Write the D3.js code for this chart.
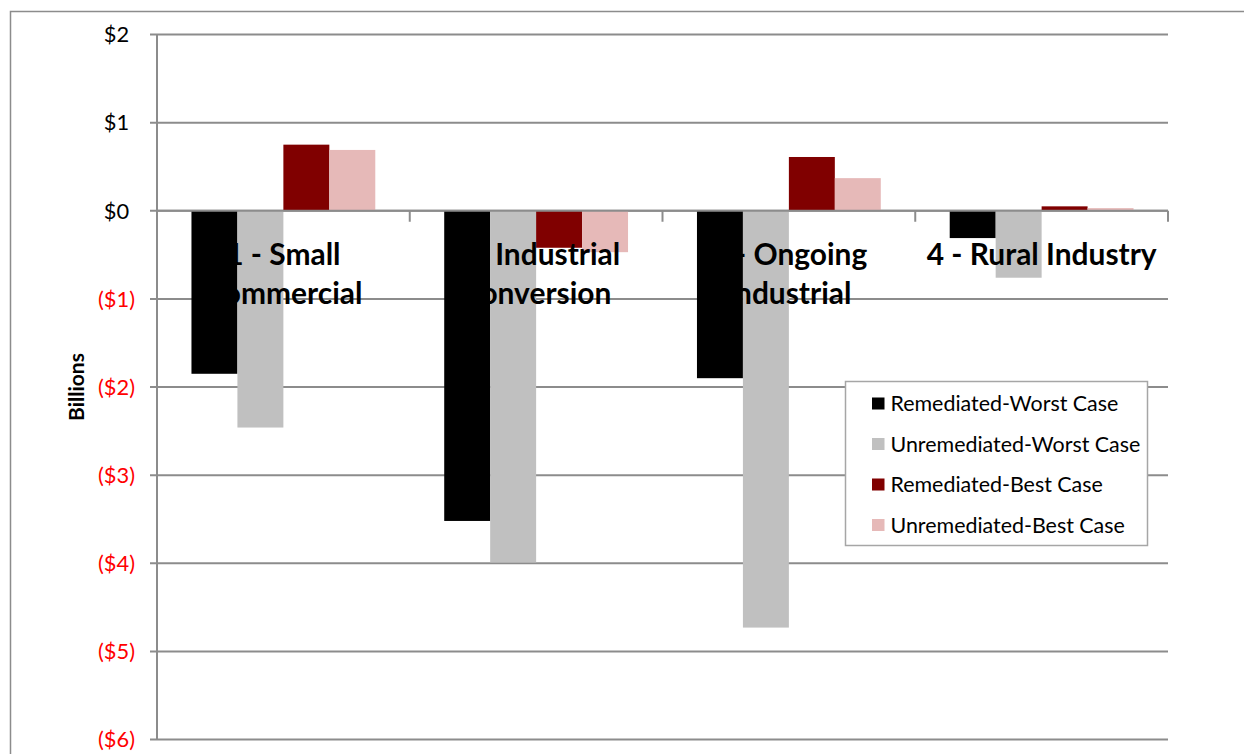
<!DOCTYPE html>
<html>
<head>
<meta charset="utf-8">
<script src="https://cdn.jsdelivr.net/npm/d3@7"></script>
<style>
  html, body { margin: 0; padding: 0; background: #fff; }
  svg { display: block; font-family: Lato, "Open Sans", sans-serif; }
</style>
</head>
<body>
<svg id="chart" width="1244" height="754"></svg>
<script>
// Scenario categories (two-line labels)
const categories = ["1 - Small Commercial", "2 - Industrial Conversion", "3 - Ongoing Industrial", "4 - Rural Industry"];
const categoryLines = [["1 - Small", "Commercial"], ["2 - Industrial", "Conversion"], ["3 - Ongoing", "Industrial"], ["4 - Rural Industry"]];

// Series names and values (billions of dollars)
const seriesNames = ["Remediated-Worst Case", "Unremediated-Worst Case", "Remediated-Best Case", "Unremediated-Best Case"];
const remediatedWorst   = [-1.85, -3.52, -1.90, -0.31];
const unremediatedWorst = [-2.46, -3.99, -4.73, -0.76];
const remediatedBest    = [0.75, -0.42, 0.61, 0.05];
const unremediatedBest  = [0.69, -0.47, 0.37, 0.03];
const seriesValues = [remediatedWorst, unremediatedWorst, remediatedBest, unremediatedBest];
const seriesColors = ["#000000", "#c0c0c0", "#800000", "#e6b9b8"];

const yTicks = [2, 1, 0, -1, -2, -3, -4, -5, -6];

const svg = d3.select("#chart");

// Pick a font size so that a sample string spans the wanted width
function fitSize(sample, width, weight) {
  const t = svg.append("text").attr("font-size", 100).attr("font-weight", weight).text(sample);
  const w = t.node().getComputedTextLength();
  t.remove();
  return 100 * width / w;
}
const tickSize = fitSize("($1)", 37, "normal");
const titleSize = fitSize("Billions", 68, "bold");
const catSize = fitSize("4 - Rural Industry", 230, "bold");
const legendSize = fitSize("Unremediated-Worst Case", 250, "normal");

// Outer chart frame
svg.append("rect")
  .attr("x", 10.5).attr("y", 11.5)
  .attr("width", 1400).attr("height", 900)
  .attr("fill", "none").attr("stroke", "#8c8c8c").attr("stroke-width", 1.5);

const plot = { left: 157, right: 1168, top: 34.5, bottom: 739.5 };

const y = d3.scaleLinear().domain([-6, 2]).range([plot.bottom, plot.top]);
const x0 = d3.scaleBand().domain(categories).range([plot.left, plot.right]).padding(0);
const x1 = d3.scaleBand().domain(seriesNames).range([0, x0.bandwidth()]).paddingInner(0).paddingOuter(0.75);

// Gridlines
svg.append("g").selectAll("line").data(yTicks).join("line")
  .attr("x1", plot.left - 7).attr("x2", plot.right)
  .attr("y1", d => y(d)).attr("y2", d => y(d))
  .attr("stroke", "#8c8c8c").attr("stroke-width", 2);

// Value axis line
svg.append("line")
  .attr("x1", plot.left).attr("x2", plot.left)
  .attr("y1", plot.top).attr("y2", plot.bottom)
  .attr("stroke", "#8c8c8c").attr("stroke-width", 2);

// Tick labels: accounting style, positives padded by the width of ")"
svg.append("g").selectAll("text").data(yTicks).join("text")
  .attr("x", 135).attr("y", d => y(d))
  .attr("dy", "0.36em")
  .attr("text-anchor", "end")
  .attr("font-size", tickSize)
  .attr("fill", d => d < 0 ? "#ff0000" : "#000000")
  .each(function (d) {
    const t = d3.select(this);
    if (d < 0) {
      t.text("($" + Math.abs(d) + ")");
    } else {
      t.append("tspan").text("$" + d);
      t.append("tspan").attr("fill", "none").text(")");
    }
  });

// Axis title
svg.append("text")
  .attr("transform", `translate(84, ${387}) rotate(-90)`)
  .attr("text-anchor", "middle")
  .attr("font-size", titleSize).attr("font-weight", "bold")
  .text("Billions");

// Bars
const bars = [];
categories.forEach((c, ci) => {
  seriesNames.forEach((s, si) => {
    bars.push({ cat: c, series: s, value: seriesValues[si][ci], color: seriesColors[si] });
  });
});
svg.append("g").selectAll("rect").data(bars).join("rect")
  .attr("x", d => x0(d.cat) + x1(d.series))
  .attr("width", x1.bandwidth())
  .attr("y", d => y(Math.max(0, d.value)))
  .attr("height", d => Math.abs(y(d.value) - y(0)))
  .attr("fill", d => d.color);

// Category axis line and tick marks at category boundaries
svg.append("line")
  .attr("x1", plot.left).attr("x2", plot.right)
  .attr("y1", y(0)).attr("y2", y(0))
  .attr("stroke", "#8c8c8c").attr("stroke-width", 2);
const boundaries = categories.map(c => x0(c)).concat([plot.right]);
svg.append("g").selectAll("line").data(boundaries.slice(1)).join("line")
  .attr("x1", d => d).attr("x2", d => d)
  .attr("y1", y(0)).attr("y2", y(0) + 11)
  .attr("stroke", "#8c8c8c").attr("stroke-width", 2);

// Category labels (drawn on top, just under the zero line)
const labelG = svg.append("g");
categories.forEach((c, ci) => {
  const cx = x0(c) + x0.bandwidth() / 2;
  const t = labelG.append("text")
    .attr("x", cx)
    .attr("y", 265)
    .attr("text-anchor", "middle")
    .attr("font-size", catSize).attr("font-weight", "bold")
    .attr("fill", "#000");
  categoryLines[ci].forEach((line, li) => {
    t.append("tspan")
      .attr("x", cx)
      .attr("dy", li === 0 ? 0 : 38.5)
      .text(line);
  });
});

// Legend
const legend = svg.append("g");
legend.append("rect")
  .attr("x", 845.5).attr("y", 381.5).attr("width", 302).attr("height", 164)
  .attr("fill", "#fff").attr("stroke", "#a6a6a6").attr("stroke-width", 1.5);
seriesNames.forEach((s, i) => {
  const ly = 403.5 + i * 40.5;
  legend.append("rect")
    .attr("x", 872).attr("y", ly - 6).attr("width", 12.5).attr("height", 12)
    .attr("fill", seriesColors[i]);
  legend.append("text")
    .attr("x", 890.5).attr("y", ly)
    .attr("dy", "0.36em")
    .attr("font-size", legendSize)
    .attr("fill", "#000")
    .text(s);
});
</script>
</body>
</html>
